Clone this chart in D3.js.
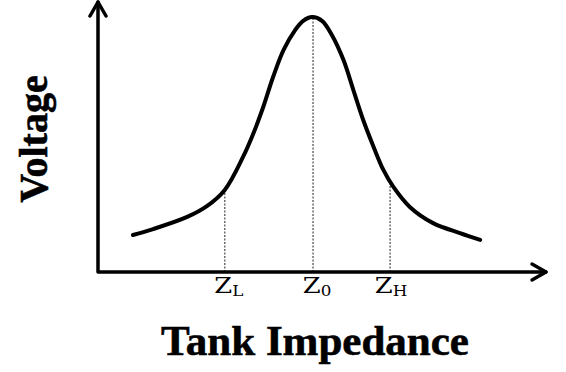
<!DOCTYPE html>
<html>
<head>
<meta charset="utf-8">
<script src="https://cdn.jsdelivr.net/npm/d3@7"></script>
<style>
  html, body { margin: 0; padding: 0; background: #fff; }
  svg { display: block; }
  .title { font-family: "Liberation Serif", "DejaVu Serif", serif; font-weight: bold; fill: #000; stroke: #000; stroke-width: 0.6; }
  .mark { font-family: "DejaVu Serif", "Liberation Serif", serif; fill: #000; }
</style>
</head>
<body>
<div id="chart"></div>
<script>
// Curve (arbitrary units, x 0..10, y 0..10)
const curveX = [0.78, 1.23, 1.99, 2.43, 2.83, 3.24, 3.47, 3.69, 3.91, 4.14, 4.40, 4.58, 4.78,
                5.00, 5.22, 5.48, 5.70, 5.92, 6.15, 6.37, 6.59, 6.96, 7.48, 8.08, 8.53];
const curveY = [1.37, 1.59, 2.04, 2.44, 3.04, 4.27, 5.14, 6.12, 7.23, 8.22, 8.96, 9.30, 9.44,
                9.30, 8.78, 7.85, 6.74, 5.63, 4.64, 3.78, 3.16, 2.41, 1.81, 1.44, 1.19];

// Marked impedances and where their guide lines meet the curve
const markNames = ["L", "0", "H"];
const markX = [2.83, 4.80, 6.52];
const markY = [3.04, 9.44, 3.30];

const W = 566, H = 372;
const svg = d3.select("#chart").append("svg")
  .attr("width", W).attr("height", H);

const x = d3.scaleLinear().domain([0, 10]).range([98, 546]);
const y = d3.scaleLinear().domain([0, 10]).range([272, 2]);

// Guide lines
svg.selectAll("line.guide").data(markX).join("line")
  .attr("class", "guide")
  .attr("x1", d => x(d)).attr("x2", d => x(d))
  .attr("y1", y(0)).attr("y2", (d, i) => y(markY[i]))
  .attr("stroke", "#555").attr("stroke-width", 1.3)
  .attr("stroke-dasharray", "2,1.5");

// Axes
const axis = svg.append("g")
  .attr("fill", "none").attr("stroke", "#000")
  .attr("stroke-width", 3.5).attr("stroke-linecap", "round").attr("stroke-linejoin", "round");
axis.append("path").attr("d", `M${x(0)},${y(10)}V${y(0)}H${x(10)}`);
axis.append("path").attr("d", `M${x(0) - 8},${y(10) + 14}L${x(0)},${y(10)}L${x(0) + 8},${y(10) + 14}`);
axis.append("path").attr("d", `M${x(10) - 14},${y(0) - 8}L${x(10)},${y(0)}L${x(10) - 14},${y(0) + 8}`);

// Curve
const line = d3.line()
  .x((d, i) => x(curveX[i]))
  .y(d => y(d))
  .curve(d3.curveCatmullRom);
svg.append("path")
  .datum(curveY)
  .attr("d", line)
  .attr("fill", "none").attr("stroke", "#000")
  .attr("stroke-width", 4).attr("stroke-linecap", "round");

// Z labels
const labelShift = [4, 4, 1];
const labels = svg.selectAll("text.mark").data(markNames).join("text")
  .attr("class", "mark")
  .attr("transform", (d, i) => `translate(${x(markX[i]) + labelShift[i]},293) scale(1.12,1)`)
  .attr("text-anchor", "middle")
  .attr("font-size", 23);
labels.append("tspan").text("Z");
labels.append("tspan").attr("font-size", 15).attr("dy", 3).text(d => d);

// Axis titles
svg.append("text").attr("class", "title")
  .attr("x", 315).attr("y", 355)
  .attr("text-anchor", "middle").attr("font-size", 43)
  .text("Tank Impedance");

svg.append("text").attr("class", "title")
  .attr("transform", "translate(47,139) rotate(-90)")
  .attr("text-anchor", "middle").attr("font-size", 40)
  .text("Voltage");
</script>
</body>
</html>
